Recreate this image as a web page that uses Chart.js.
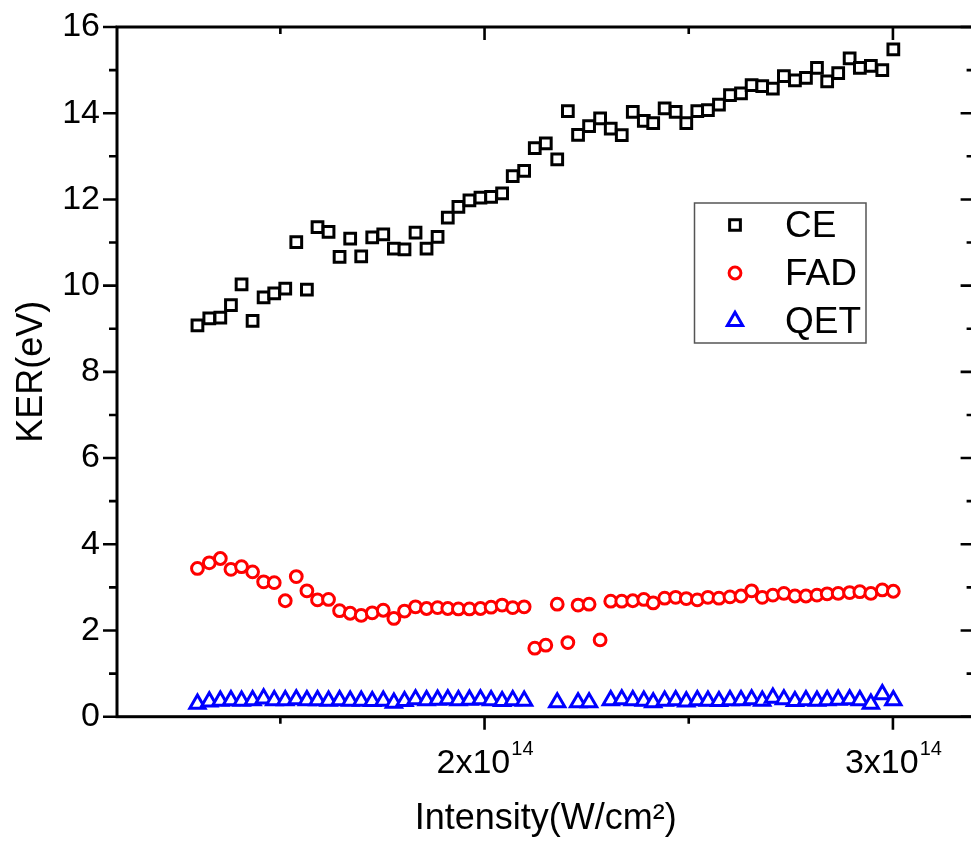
<!DOCTYPE html>
<html>
<head>
<meta charset="utf-8">
<title>KER vs Intensity</title>
<script src="https://cdn.jsdelivr.net/npm/chart.js@4.4.1/dist/chart.umd.min.js"></script>
<style>
  html, body { margin: 0; padding: 0; background: #fff; overflow: hidden; }
  #wrap { width: 976px; height: 841px; }
</style>
</head>
<body>
<div id="wrap"><canvas id="chart" width="976" height="841"></canvas></div>
<script>
/* ---------------- data (intensity in units of 1e14 W/cm^2) ---------------- */
const intensity = [
  1.297, 1.326, 1.353, 1.379, 1.405, 1.432, 1.459, 1.485, 1.512, 1.539,
  1.565, 1.591, 1.618, 1.645, 1.671, 1.698, 1.725, 1.752, 1.778, 1.804,
  1.831, 1.858, 1.885, 1.910, 1.936, 1.963, 1.990, 2.016, 2.043, 2.069,
  2.097, 2.123, 2.150, 2.178, 2.204, 2.229, 2.256, 2.283, 2.309, 2.336,
  2.363, 2.390, 2.413, 2.441, 2.468, 2.494, 2.521, 2.547, 2.574, 2.601,
  2.628, 2.654, 2.680, 2.706, 2.733, 2.760, 2.787, 2.814, 2.839, 2.866,
  2.894, 2.919, 2.946, 2.974, 3.001
];
const kerCE = [
  9.08, 9.24, 9.26, 9.55, 10.03, 9.18, 9.73, 9.82, 9.93, 11.01,
  9.91, 11.36, 11.25, 10.67, 11.09, 10.68, 11.12, 11.19, 10.86, 10.84,
  11.23, 10.86, 11.13, 11.58, 11.83, 11.98, 12.04, 12.06, 12.14, 12.54,
  12.66, 13.19, 13.30, 12.93, 14.05, 13.50, 13.70, 13.88, 13.64, 13.49,
  14.03, 13.82, 13.77, 14.11, 14.03, 13.77, 14.05, 14.07, 14.20, 14.42,
  14.46, 14.65, 14.63, 14.57, 14.86, 14.76, 14.82, 15.05, 14.74, 14.93,
  15.27, 15.05, 15.10, 15.00, 15.48
];
const kerFAD = [
  3.44, 3.57, 3.67, 3.42, 3.48, 3.36, 3.13, 3.11, 2.69, 3.25,
  2.92, 2.71, 2.72, 2.46, 2.40, 2.35, 2.41, 2.47, 2.28, 2.45,
  2.55, 2.51, 2.53, 2.51, 2.50, 2.50, 2.51, 2.54, 2.59, 2.53,
  2.55, 1.59, 1.66, 2.61, 1.72, 2.59, 2.61, 1.78, 2.68, 2.68,
  2.69, 2.72, 2.64, 2.75, 2.77, 2.74, 2.71, 2.77, 2.75, 2.78,
  2.80, 2.92, 2.77, 2.82, 2.86, 2.80, 2.80, 2.82, 2.85, 2.86,
  2.88, 2.90, 2.86, 2.94, 2.91
];
const kerQET = [
  0.30, 0.35, 0.37, 0.38, 0.37, 0.38, 0.42, 0.38, 0.38, 0.40,
  0.38, 0.38, 0.37, 0.38, 0.37, 0.37, 0.36, 0.37, 0.32, 0.36,
  0.40, 0.38, 0.39, 0.40, 0.38, 0.39, 0.40, 0.38, 0.36, 0.38,
  0.37, null, null, 0.33, null, 0.33, 0.33, null, 0.38, 0.40,
  0.38, 0.37, 0.33, 0.37, 0.38, 0.35, 0.38, 0.37, 0.36, 0.38,
  0.38, 0.40, 0.37, 0.44, 0.40, 0.36, 0.38, 0.37, 0.38, 0.39,
  0.40, 0.38, 0.30, 0.52, 0.38
];
const seriesNames = ['CE', 'FAD', 'QET'];

// axis ticks
const xMajor = [2, 3];
const xMinor = [1.5, 2.5];
const yMinor = [1, 3, 5, 7, 9, 11, 13, 15];

const FONT = "'Liberation Sans', Arial, sans-serif";

function toPoints(ys) {
  return intensity
    .map((x, i) => ({ x: x, y: ys[i] }))
    .filter(p => p.y !== null);
}

/* ---------------- frame, ticks, x labels, legend ---------------- */
const frameTicks = {
  id: 'frameTicks',
  afterDatasetsDraw(chart) {
    const { ctx, chartArea: a, scales: { x, y } } = chart;
    ctx.save();
    ctx.strokeStyle = '#000';
    ctx.lineWidth = 3;
    ctx.strokeRect(a.left, a.top, a.right - a.left, a.bottom - a.top);

    ctx.lineWidth = 2.6;
    ctx.beginPath();
    // y: outward on the left, inward on the right
    y.ticks.forEach(t => {
      const py = y.getPixelForValue(t.value);
      ctx.moveTo(a.left, py); ctx.lineTo(a.left - 14, py);
      ctx.moveTo(a.right, py); ctx.lineTo(a.right - 14, py);
    });
    yMinor.forEach(v => {
      const py = y.getPixelForValue(v);
      ctx.moveTo(a.left, py); ctx.lineTo(a.left - 8, py);
      ctx.moveTo(a.right, py); ctx.lineTo(a.right - 8, py);
    });
    // x: outward at the bottom, inward at the top
    xMajor.forEach(v => {
      const px = x.getPixelForValue(v);
      ctx.moveTo(px, a.bottom); ctx.lineTo(px, a.bottom + 13);
      ctx.moveTo(px, a.top); ctx.lineTo(px, a.top + 13);
    });
    xMinor.forEach(v => {
      const px = x.getPixelForValue(v);
      ctx.moveTo(px, a.bottom); ctx.lineTo(px, a.bottom + 7);
      ctx.moveTo(px, a.top); ctx.lineTo(px, a.top + 7);
    });
    ctx.stroke();

    // x tick labels "Nx10^14"
    ctx.fillStyle = '#000';
    ctx.textBaseline = 'alphabetic';
    ctx.textAlign = 'left';
    xMajor.forEach(v => {
      const px = x.getPixelForValue(v);
      const base = v + 'x10';
      ctx.font = '34px ' + FONT;
      const wb = ctx.measureText(base).width;
      ctx.font = '20px ' + FONT;
      const ws = ctx.measureText('14').width;
      const x0 = px - (wb + ws) / 2;
      ctx.font = '34px ' + FONT;
      ctx.fillText(base, x0, a.bottom + 56);
      ctx.font = '20px ' + FONT;
      ctx.fillText('14', x0 + wb + 1, a.bottom + 38);
    });

    // legend box inside the plot
    const box = { left: 694.5, top: 203, width: 171.5, height: 140 };
    ctx.lineWidth = 1.5;
    ctx.strokeStyle = '#555';
    ctx.strokeRect(box.left, box.top, box.width, box.height);
    ctx.font = '37px ' + FONT;
    ctx.textBaseline = 'middle';
    chart.data.datasets.forEach((ds, i) => {
      const cy = box.top + 22 + i * 48;
      ctx.fillStyle = '#fff';
      ctx.strokeStyle = ds.borderColor;
      ctx.lineWidth = ds.borderWidth;
      if (Chart.helpers && Chart.helpers.drawPoint) {
        Chart.helpers.drawPoint(ctx, {
          pointStyle: ds.pointStyle, radius: ds.pointRadius,
          rotation: 0, borderWidth: ds.borderWidth
        }, 735, cy);
      }
      ctx.fillStyle = '#000';
      ctx.fillText(seriesNames[i], 785, cy + 2);
    });
    ctx.restore();
  }
};

/* ---------------- chart ---------------- */
new Chart(document.getElementById('chart'), {
  type: 'scatter',
  data: {
    datasets: [
      {
        label: seriesNames[0], data: toPoints(kerCE),
        pointStyle: 'rect', pointRadius: 7.6, borderWidth: 3,
        borderColor: '#000', backgroundColor: '#fff'
      },
      {
        label: seriesNames[1], data: toPoints(kerFAD),
        pointStyle: 'circle', pointRadius: 5.9, borderWidth: 3,
        borderColor: '#ff0000', backgroundColor: '#fff'
      },
      {
        label: seriesNames[2], data: toPoints(kerQET),
        pointStyle: 'triangle', pointRadius: 8.8, borderWidth: 3,
        borderColor: '#0000ff', backgroundColor: '#fff'
      }
    ]
  },
  options: {
    responsive: false,
    animation: false,
    devicePixelRatio: 1,
    // canvas is a bit wider than the window: the right spine falls just off the picture
    layout: { autoPadding: false, padding: { top: 27, right: 1.4, left: 0, bottom: 0 } },
    plugins: { legend: { display: false }, tooltip: { enabled: false } },
    scales: {
      x: {
        type: 'linear', min: 1.1, max: 3.2,
        grid: { display: false },
        border: { display: false },
        ticks: { display: false },
        title: {
          display: true, text: 'Intensity(W/cm²)', color: '#000',
          font: { family: FONT, size: 36 }, padding: { top: 0, bottom: 0 }
        },
        afterFit: (s) => {
          s.height = 124.3;
          s.paddingLeft = 0; s.paddingRight = 0;
        }
      },
      y: {
        type: 'linear', min: 0, max: 16,
        grid: { display: false, drawTicks: false },
        border: { display: false },
        ticks: {
          stepSize: 2, color: '#000', padding: 17,
          font: { family: FONT, size: 34 }
        },
        title: {
          display: true, text: 'KER(eV)', color: '#000',
          font: { family: FONT, size: 36 }, padding: { top: 10, bottom: 0 }
        },
        afterFit: (s) => {
          s.width = 117;
          s.paddingTop = 0; s.paddingBottom = 0;
        }
      }
    }
  },
  plugins: [frameTicks]
});
</script>
</body>
</html>
